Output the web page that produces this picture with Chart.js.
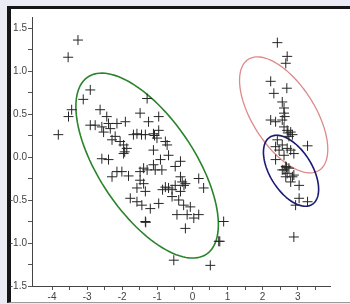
<!DOCTYPE html>
<html>
<head>
<meta charset="utf-8">
<script src="https://cdn.jsdelivr.net/npm/chart.js@4.4.1/dist/chart.umd.min.js"></script>
<style>
  body { margin: 0; background: #ebebf5; overflow: hidden; }
  #frame {
    position: absolute; left: 7px; top: 6px; width: 400px; height: 293px;
    background: #fff; border-left: 4px solid #151515; border-top: 3px solid #151515;
    border-bottom: 1px solid #9a9a9a;
  }
  #my-chart { position: absolute; left: 0; top: 0; }
</style>
</head>
<body>
<div id="frame"></div>
<canvas id="my-chart" width="350" height="304"></canvas>
<script>
// scatter values
const xValues = [
  -3.26, -3.54, -2.91, -3.11, -3.44, -3.53, -3.82, -2.63, -2.44, -2.91,
  -2.77, -2.58, -2.39, -2.34, -2.15, -1.91, -2.53, -2.29, -2.20, -2.06,
  -1.96, -1.87, -1.96, -2.58, -2.39, -2.15, -2.29, -2.01, -1.82, -1.29,
  -1.49, -1.25, -0.96, -1.58, -1.68, -1.34, -1.11, -0.96, -1.01, -0.77,
  -0.72, -1.11, -0.68, -0.91, -1.11, -1.39, -1.29, -1.49, -1.06, -0.87,
  -0.49, -0.34, -1.49, -1.39, -1.58, -1.34, -0.77, -0.68, -0.49, -0.34,
  -0.29, -0.20, 0.18, 0.32, -1.77, -1.58, -1.44, -1.20, -0.96, -0.58,
  -0.39, -0.25, -0.06, -0.44, -0.15, 0.04, 0.18, -1.34, -0.20, 0.89,
  0.75, -0.53, 0.51, -0.34, -0.58, -1.93, -0.24, -0.85, -1.45, 0.78,
  -1.33, -1.08,
  2.42, 2.70, 2.66, 2.23, 2.32, 2.69, 2.56, 2.61, 2.61, 2.23,
  2.37, 2.56, 2.61, 2.70, 2.80, 2.85, 2.75, 3.28, 2.42, 2.56,
  2.70, 2.37, 2.47, 2.80, 2.37, 2.61, 2.89, 2.66, 2.61, 2.75,
  2.70, 2.85, 2.80, 2.89, 3.04, 3.04, 3.28, 2.94, 2.89, 2.56,
  2.66, 2.63, 2.72, 2.68
];
const yValues = [
  1.36, 1.16, 0.78, 0.67, 0.55, 0.47, 0.26, 0.55, 0.47, 0.37,
  0.37, 0.35, 0.39, 0.33, 0.39, 0.41, 0.29, 0.20, 0.24, 0.18,
  0.14, 0.10, 0.04, -0.02, -0.03, -0.17, -0.23, -0.17, -0.22, 0.68,
  0.51, 0.41, 0.47, 0.27, 0.26, 0.26, 0.27, 0.31, 0.22, 0.18,
  0.14, 0.08, 0.02, -0.03, -0.09, -0.13, -0.15, -0.17, -0.15, -0.15,
  -0.11, -0.05, -0.27, -0.31, -0.36, -0.40, -0.35, -0.36, -0.33, -0.23,
  -0.29, -0.31, -0.25, -0.36, -0.48, -0.52, -0.56, -0.60, -0.54, -0.46,
  -0.50, -0.56, -0.58, -0.67, -0.67, -0.71, -0.67, -0.75, -0.83, -0.75,
  -0.98, -1.20, -1.26, -0.40, -0.38, 0.06, -0.33, -0.38, 0.26, -0.98,
  -0.76, 0.25,
  1.33, 1.17, 1.09, 0.88, 0.74, 0.80, 0.64, 0.57, 0.51, 0.43,
  0.41, 0.43, 0.35, 0.31, 0.29, 0.26, 0.24, 0.13, 0.20, 0.14,
  0.10, 0.12, 0.08, 0.08, -0.03, 0.02, 0.04, -0.11, -0.15, -0.13,
  -0.19, -0.23, -0.29, -0.21, -0.33, -0.48, -0.52, -0.56, -0.93, -0.15,
  -0.23, 0.47, 0.28, -0.12
];

// ellipses: centre and two conjugate half-axes, in data units
const ellipseCenters = [[-1.29, -0.10], [2.60, 0.49], [2.81, -0.16]];
const ellipseAxisU = [[2.03, -0.686], [1.257, -0.401], [0.786, -0.215]];
const ellipseAxisV = [[0, -0.828], [0, -0.542], [0, -0.352]];
const ellipseColors = ['#2a842a', '#dc8a8a', '#1a1a74'];

const xTicks = [-4, -3.5, -3, -2.5, -2, -1.5, -1, -0.5, 0, 0.5, 1, 1.5, 2, 2.5, 3, 3.5];
const yTicks = [-1.5, -1.25, -1, -0.75, -0.5, -0.25, 0, 0.25, 0.5, 0.75, 1, 1.25, 1.5];

const ellipsePlugin = {
  id: 'ellipses',
  beforeDatasetsDraw(chart) {
    const { ctx, scales: { x, y } } = chart;
    ctx.save();
    ellipseCenters.forEach((c, i) => {
      const u = ellipseAxisU[i], v = ellipseAxisV[i];
      ctx.beginPath();
      for (let k = 0; k <= 120; k++) {
        const t = k / 120 * Math.PI * 2;
        const px = x.getPixelForValue(c[0] + u[0] * Math.cos(t) + v[0] * Math.sin(t));
        const py = y.getPixelForValue(c[1] + u[1] * Math.cos(t) + v[1] * Math.sin(t));
        if (k === 0) ctx.moveTo(px, py); else ctx.lineTo(px, py);
      }
      ctx.strokeStyle = ellipseColors[i];
      ctx.lineWidth = i === 1 ? 1.3 : 1.6;
      ctx.stroke();
    });
    ctx.restore();
  }
};

Chart.defaults.font.family = 'Liberation Sans';
Chart.defaults.font.size = 10;
Chart.defaults.color = '#444';

const ctx = document.getElementById('my-chart').getContext('2d');
const chart = new Chart(ctx, {
  type: 'scatter',
  data: {
    datasets: [{
      data: xValues.map((v, i) => ({ x: v, y: yValues[i] })),
      pointStyle: 'cross',
      pointRadius: 5,
      pointHoverRadius: 5,
      borderWidth: 1,
      borderColor: '#262626',
      backgroundColor: '#262626'
    }]
  },
  options: {
    responsive: false,
    animation: false,
    devicePixelRatio: 1,
    layout: { padding: { left: 0, top: 17, right: 20, bottom: 0 } },
    plugins: { legend: { display: false }, tooltip: { enabled: false } },
    scales: {
      x: {
        type: 'linear', min: -4.57, max: 3.92,
        afterBuildTicks: s => { s.ticks = xTicks.map(v => ({ value: v })); },
        afterFit: s => { s.height = 18; },
        grid: { drawOnChartArea: false, tickLength: 4, tickColor: '#555' },
        border: { color: '#444' },
        ticks: {
          padding: 1, maxRotation: 0, autoSkip: false,
          callback: v => Number.isInteger(v) ? String(v) : ''
        }
      },
      y: {
        type: 'linear', min: -1.5, max: 1.628,
        afterBuildTicks: s => { s.ticks = yTicks.map(v => ({ value: v })); },
        afterFit: s => { s.width = 32; },
        grid: { drawOnChartArea: false, tickLength: 4, tickColor: '#555' },
        border: { color: '#444' },
        ticks: {
          padding: 1, autoSkip: false,
          callback: v => (v * 2) % 1 === 0 ? v.toFixed(1) : ''
        }
      }
    }
  },
  plugins: [ellipsePlugin]
}); // closes chart = new Chart()
</script>
</body>
</html>
